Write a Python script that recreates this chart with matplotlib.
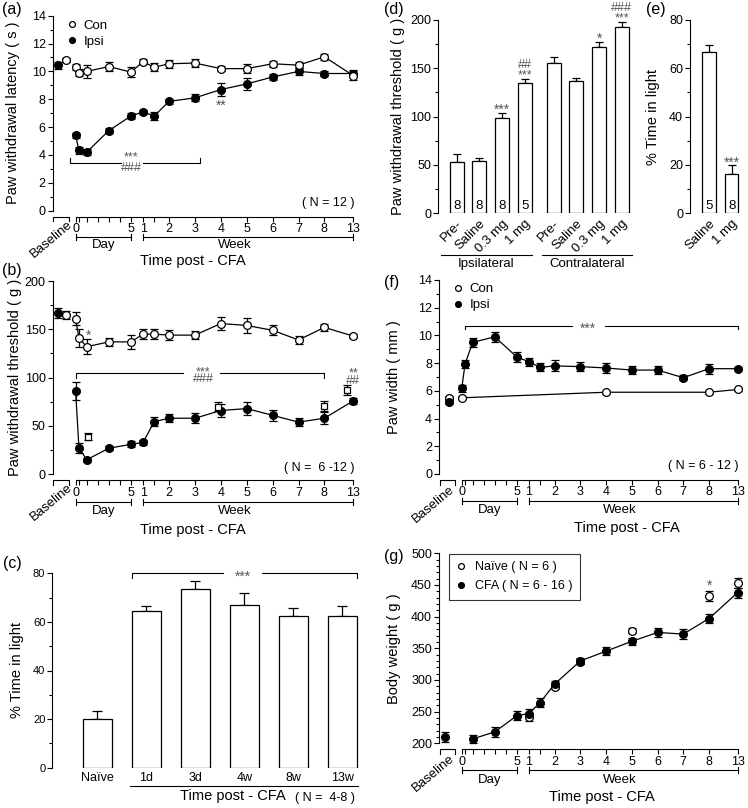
import matplotlib
matplotlib.use('Agg')
import matplotlib.pyplot as plt
import matplotlib.transforms as mtransforms
from matplotlib.lines import Line2D
from matplotlib.ticker import MultipleLocator

plt.rcParams['font.family'] = ['Liberation Sans', 'DejaVu Sans']
plt.rcParams['axes.linewidth'] = 0.8
plt.rcParams['xtick.major.width'] = 0.8
plt.rcParams['ytick.major.width'] = 0.8
plt.rcParams['ytick.minor.width'] = 0.8
plt.rcParams['ytick.major.size'] = 3.5
plt.rcParams['ytick.minor.size'] = 2.0

# ---------------- data ----------------
# time points in days ('B' = baseline)
times_full = ['B', 0, 0.3, 1, 3, 5, 7, 10, 14, 21, 28, 35, 42, 49, 56, 91]

a_ipsi = [10.45, 5.4, 4.35, 4.2, 5.75, 6.8, 7.1, 6.8, 7.85, 8.1, 8.7, 9.1, 9.6, 10.0, 9.85, 9.85]
a_ipsi_err = [0.25, 0.2, 0.25, 0.2, 0.2, 0.2, 0.15, 0.3, 0.2, 0.25, 0.5, 0.4, 0.25, 0.25, 0.2, 0.25]
a_con = [10.8, 10.3, 9.9, 10.0, 10.35, 9.95, 10.7, 10.3, 10.55, 10.6, 10.2, 10.2, 10.55, 10.45, 11.05, 9.7]
a_con_err = [0.15, 0.2, 0.25, 0.45, 0.3, 0.35, 0.2, 0.3, 0.3, 0.3, 0.2, 0.3, 0.2, 0.2, 0.2, 0.3]

b_ipsi = [167, 86, 27.5, 15, 27, 31, 33, 54.5, 58, 58, 66, 68, 61, 54, 58, 76]
b_ipsi_err = [5, 9.5, 5, 2, 2, 3, 3, 5, 4, 5, 7, 7, 6, 4, 6, 3]
b_con = [165, 161, 141, 132, 137, 137, 145, 145, 144, 144, 156, 154, 149, 139, 152, 143]
b_con_err = [4, 7, 9, 8, 4, 7, 5, 5, 5, 4, 7, 8, 5, 4, 4, 2]
b_sq_times = [1, 28, 56, 91]
b_sq = [39, 70, 71, 87]
b_sq_err = [4, 5, 5, 5]

c_labels = ['Naïve', '1d', '3d', '4w', '8w', '13w']
c_vals = [20.0, 64.6, 73.4, 67.1, 62.5, 62.3]
c_errs = [3.4, 2.0, 3.6, 4.6, 3.2, 4.3]

d_labels = ['Pre-', 'Saline', '0.3 mg', '1 mg', 'Pre-', 'Saline', '0.3 mg', '1 mg']
d_vals = [53, 54, 98.5, 134.5, 155, 137, 172, 193]
d_errs = [8.5, 3, 5, 4.5, 6.5, 3.5, 5, 5]
d_n = ['8', '8', '8', '5', '', '', '', '']
d_sig = ['', '', '***', '##\n***', '', '', '*', '###\n***']

e_labels = ['Saline', '1 mg']
e_vals = [66.6, 16.2]
e_errs = [3.2, 3.7]
e_n = ['5', '8']
e_sig = ['', '***']

f_times_ipsi = times_full
f_ipsi = [5.2, 6.2, 7.95, 9.5, 9.9, 8.45, 8.1, 7.7, 7.8, 7.75, 7.65, 7.5, 7.5, 6.95, 7.6, 7.6]
f_ipsi_err = [0.15, 0.25, 0.3, 0.3, 0.35, 0.35, 0.3, 0.3, 0.4, 0.35, 0.35, 0.3, 0.3, 0.2, 0.35, 0.1]
f_times_con = ['B', 0, 28, 56, 91]
f_con = [5.5, 5.5, 5.9, 5.9, 6.1]
f_con_err = [0.1, 0.1, 0.12, 0.12, 0.12]

g_times_cfa = ['B', 1, 3, 5, 7, 10, 14, 21, 28, 35, 42, 49, 56, 91]
g_cfa = [210.5, 207, 218, 243.5, 247, 264, 293.5, 330, 345.5, 361, 375, 372.5, 397, 438]
g_cfa_err = [8, 6, 8, 7, 7, 7, 5, 5, 6, 6, 7, 8, 7, 8]
g_times_naive = [7, 14, 21, 35, 56, 91]
g_naive = [241, 289.5, 329, 378, 433, 453]
g_naive_err = [5, 4, 4, 4, 8, 8]

GREY = '#555555'
STAR_FS = 10
TICK_FS = 9
W, H = 748, 808
PT = 100 / 72.0  # px per point
fig = plt.figure(figsize=(W / 100, H / 100), dpi=100)


def rect(l, t, r, b):
    return [l / W, 1 - b / H, (r - l) / W, (b - t) / H]


def xpos(t):
    if t <= 5:
        return t
    w = t / 7.0
    if w <= 8:
        return 6.1 + (w - 1) * 2.34
    return 22.48 + (w - 8) * 0.52


def stars(ax, x, y, s, dy_px, fs=STAR_FS):
    # single-line asterisks: visual centre dy_px above (x, y)
    off = (dy_px - 0.23 * fs * PT) / PT
    ax.annotate(s, (x, y), xytext=(0, off), textcoords='offset points', ha='center',
                va='center', fontsize=fs, color=GREY, annotation_clip=False, zorder=4)


def stack(ax, x, y, s, dy_px, ls, fs=9):
    # two-line significance marks, text-box centre dy_px above (x, y)
    ax.annotate(s, (x, y), xytext=(0, dy_px / PT), textcoords='offset points', ha='center',
                va='center', fontsize=fs, color=GREY, linespacing=ls,
                annotation_clip=False, zorder=4)


def draw_series(ax, times, vals, errs, filled, base_x, z=3, ms=5.6, shifts=None, marker='o', line=True):
    xs = [base_x if t == 'B' else xpos(t) for t in times]
    if shifts:
        xs = [x + s for x, s in zip(xs, shifts)]
    ax.errorbar(xs, vals, yerr=errs, fmt='none', ecolor='k', elinewidth=0.9,
                capsize=2.9, capthick=0.9, zorder=z, clip_on=False)
    if line:
        lx = [x for x, t in zip(xs, times) if t != 'B']
        ly = [v for v, t in zip(vals, times) if t != 'B']
        ax.plot(lx, ly, '-', color='k', lw=0.9, zorder=z)
    ax.plot(xs, vals, marker, ls='none', ms=ms, mfc='k' if filled else 'w', mec='k',
            mew=0.9, zorder=z + 0.5, clip_on=False)
    return xs


XL = (-2.07, 25.35)
tick_t = [0, 0.3, 1, 2, 3, 4, 5, 7, 10, 14, 21, 28, 35, 42, 49, 56, 91]
tick_lab = {0: '0', 5: '5', 7: '1', 14: '2', 21: '3', 28: '4', 35: '5', 42: '6',
            49: '7', 56: '8', 91: '13'}


def px_trans(ax):
    y0 = ax.get_position().y0 * H
    tr = mtransforms.blended_transform_factory(ax.transData, mtransforms.IdentityTransform())
    return y0, tr


def time_axis(ax, dy_day, dy_daytxt, dy_title, x_title, base_anchor=-0.75, base_dy=7.5):
    ax.set_xlim(*XL)
    for s in ['top', 'right']:
        ax.spines[s].set_visible(False)
    ax.spines['bottom'].set_position(('outward', 4.3))
    ax.spines['bottom'].set_bounds(xpos(0), xpos(91))
    ax.set_xticks([xpos(t) for t in tick_t])
    ax.set_xticklabels([tick_lab.get(t, '') for t in tick_t])
    ax.tick_params(axis='x', length=3.3, width=0.8, pad=1.2, labelsize=TICK_FS)
    ax.tick_params(axis='y', labelsize=TICK_FS, pad=1.5)
    y0, tr = px_trans(ax)

    def seg(xs, dys):
        ax.plot(xs, [y0 - d for d in dys], color='k', lw=0.8, transform=tr, clip_on=False)
    bx0, bx1 = XL[0] + 0.05, -0.6
    seg([bx0, bx0, bx1, bx1], [10.5, 6, 6, 10.5])
    ax.text(base_anchor, y0 - base_dy, 'Baseline', transform=tr, rotation=40, ha='right',
            va='top', rotation_mode='anchor', fontsize=9.5)
    for a, b in [(xpos(0), xpos(5)), (xpos(7), xpos(91))]:
        seg([a, b], [dy_day, dy_day])
        seg([a, a], [dy_day - 3, dy_day + 3])
        seg([b, b], [dy_day - 3, dy_day + 3])
    ax.text((xpos(0) + xpos(5)) / 2, y0 - dy_daytxt, 'Day', transform=tr, ha='center',
            va='center', fontsize=9.5)
    ax.text(14.35, y0 - dy_daytxt, 'Week', transform=tr, ha='center', va='center', fontsize=9.5)
    ax.text(x_title, y0 - dy_title, 'Time post - CFA', transform=tr, ha='center',
            va='center', fontsize=10.5)


def ylab(ax, text, px_right, l, w):
    ax.set_ylabel(text, fontsize=10.5)
    ax.yaxis.set_label_coords((px_right - l) / w, 0.5)


def bracket(ax, x0, x1, y, tick, gap=None):
    if gap:
        ax.plot([x0, x0, gap[0]], [y + tick, y, y], color='k', lw=0.8, clip_on=False, zorder=1)
        ax.plot([gap[1], x1, x1], [y, y, y + tick], color='k', lw=0.8, clip_on=False, zorder=1)
    else:
        ax.plot([x0, x0, x1, x1], [y + tick, y, y, y + tick], color='k', lw=0.8, clip_on=False, zorder=1)


def panel_letter(x, y, s):
    fig.text(x / W, 1 - y / H, s, fontsize=11.5, ha='left', va='top')


h_con = Line2D([], [], marker='o', ls='none', mfc='w', mec='k', mew=0.9, ms=4.2)
h_ipsi = Line2D([], [], marker='o', ls='none', mfc='k', mec='k', mew=0.9, ms=4.2)

# ---------------- (a) ----------------
la, wa = 52.7, 303.5
axa = fig.add_axes(rect(la, 15.7, la + wa, 210.7))
axa.set_ylim(0, 14)
axa.yaxis.set_major_locator(MultipleLocator(2))
axa.yaxis.set_minor_locator(MultipleLocator(1))
xa = draw_series(axa, times_full, a_ipsi, a_ipsi_err, True, -1.57)
draw_series(axa, times_full, a_con, a_con_err, False, -0.9)
time_axis(axa, 26, 34.5, 50.5, 10.6)
ylab(axa, 'Paw withdrawal latency ( s )', 20, la, wa)
bracket(axa, xpos(0) - 0.5, xpos(21) + 0.45, 3.45, 0.3, gap=(4.07, 6.1))
stack(axa, 5.05, 3.45, '***\n###', -0.3, 0.84)
i4 = times_full.index(28)
stars(axa, xa[i4], a_ipsi[i4] - a_ipsi_err[i4], '**', -6)
axa.text(25.2, 0.57, '( N = 12 )', ha='right', va='center', fontsize=9)
axa.legend([h_con, h_ipsi], ['Con', 'Ipsi'], loc='upper left', bbox_to_anchor=(0.045, 0.98),
           frameon=False, fontsize=9.5, handlelength=0.8, handletextpad=0.5,
           labelspacing=0.3, borderpad=0, borderaxespad=0)

# ---------------- (b) ----------------
axb = fig.add_axes(rect(la, 281, la + wa, 474.3))
axb.set_ylim(0, 200)
axb.yaxis.set_major_locator(MultipleLocator(50))
axb.yaxis.set_minor_locator(MultipleLocator(25))
draw_series(axb, times_full, b_ipsi, b_ipsi_err, True, -1.57)
xb = draw_series(axb, times_full, b_con, b_con_err, False, -0.9)
xsq = draw_series(axb, b_sq_times, b_sq, b_sq_err, False, 0, marker='s', ms=5.0, line=False,
                  shifts=[0.1, -0.3, 0.0, -0.6])
time_axis(axb, 27.4, 36.7, 55.5, 10.6)
ylab(axb, 'Paw withdrawal threshold ( g )', 22, la, wa)
bracket(axb, xpos(0), xpos(56), 105, -5.5, gap=(9.72, 13.04))
stack(axb, 11.55, 105, '***\n###', -2.9, 0.45)
i1 = times_full.index(1)
stars(axb, xb[i1] + 0.15, b_con[i1] + b_con_err[i1], '*', 6)
stack(axb, xsq[-1] + 0.6, b_sq[-1] + b_sq_err[-1], '**\n##', 8.1, 0.52)
axb.text(25.2, 7, '( N =  6 -12 )', ha='right', va='center', fontsize=9)

# ---------------- (c) ----------------
lc, wc = 52.3, 314.6
axc = fig.add_axes(rect(lc, 573.3, lc + wc, 767.7))
xc = list(range(len(c_labels)))
axc.bar(xc, c_vals, width=0.6, color='w', edgecolor='k', lw=0.9, zorder=2)
axc.errorbar(xc, c_vals, yerr=[[0] * len(c_vals), c_errs], fmt='none', ecolor='k',
             elinewidth=0.9, capsize=3.6, capthick=0.9, zorder=1)
axc.set_ylim(0, 80)
axc.set_xlim(-0.92, 5.5)
for s in ['top', 'right', 'bottom']:
    axc.spines[s].set_visible(False)
axc.yaxis.set_major_locator(MultipleLocator(20))
axc.yaxis.set_minor_locator(MultipleLocator(10))
axc.set_xticks(xc)
axc.set_xticklabels(c_labels, fontsize=9)
axc.tick_params(axis='x', length=0, pad=3)
axc.tick_params(axis='y', labelsize=8, pad=1.5)
ylab(axc, '% Time in light', 24, lc, wc)
bracket(axc, 0.7, 5.3, 80, -2, gap=(2.57, 3.35))
stars(axc, 2.96, 80, '***', 0)
y0c, trc = px_trans(axc)
axc.plot([0.67, 5.32], [y0c - 18.5, y0c - 18.5], color='k', lw=0.8, transform=trc, clip_on=False)
axc.text(2.77, y0c - 28.5, 'Time post - CFA', transform=trc, ha='center', va='center', fontsize=10.5)
axc.text(4.65, y0c - 30.5, '( N =  4-8 )', transform=trc, ha='center', va='center', fontsize=9)

# ---------------- (d) ----------------
ld, wd = 438.3, 193.2
axd = fig.add_axes(rect(ld, 20, ld + wd, 213.3))
xd = [i + (0.27 if i >= 4 else 0) for i in range(len(d_vals))]
axd.bar(xd, d_vals, width=0.62, color='w', edgecolor='k', lw=0.9, zorder=2)
axd.errorbar(xd, d_vals, yerr=[[0] * len(d_vals), d_errs], fmt='none', ecolor='k',
             elinewidth=0.9, capsize=3.0, capthick=0.9, zorder=1)
axd.set_ylim(0, 200)
axd.set_xlim(-0.81, 7.7)
for s in ['top', 'right', 'bottom']:
    axd.spines[s].set_visible(False)
axd.yaxis.set_major_locator(MultipleLocator(50))
axd.yaxis.set_minor_locator(MultipleLocator(25))
axd.set_xticks(xd)
axd.set_xticklabels(d_labels, fontsize=9.5, rotation=45, ha='right', rotation_mode='anchor')
axd.tick_params(axis='x', length=0, pad=3)
axd.tick_params(axis='y', labelsize=TICK_FS, pad=1.5)
ylab(axd, 'Paw withdrawal threshold ( g )', 405, ld, wd)
for x, n in zip(xd, d_n):
    axd.text(x, 1.5, n, ha='center', va='bottom', fontsize=9.5, zorder=3)
for x, v, e, s in zip(xd, d_vals, d_errs, d_sig):
    if '\n' in s:
        stack(axd, x, v + e, s, 8.5, 0.82)
    elif s:
        stars(axd, x, v + e, s, 6.3)
y0d, trd = px_trans(axd)
for a, b, lab in [(-0.7, 3.3, 'Ipsilateral'), (3.74, 7.73, 'Contralateral')]:
    axd.plot([a, b], [y0d - 41.7, y0d - 41.7], color='k', lw=0.8, transform=trd, clip_on=False)
    axd.text((a + b) / 2, y0d - 50.5, lab, transform=trd, ha='center', va='center', fontsize=9.5)

# ---------------- (e) ----------------
le, we = 690, 53
axe = fig.add_axes(rect(le, 20, le + we, 213.3))
xe = list(range(len(e_vals)))
axe.bar(xe, e_vals, width=0.6, color='w', edgecolor='k', lw=0.9, zorder=2)
axe.errorbar(xe, e_vals, yerr=[[0] * len(e_vals), e_errs], fmt='none', ecolor='k',
             elinewidth=0.9, capsize=3.0, capthick=0.9, zorder=1)
axe.set_ylim(0, 80)
axe.set_xlim(-0.84, 1.5)
for s in ['top', 'right', 'bottom']:
    axe.spines[s].set_visible(False)
axe.yaxis.set_major_locator(MultipleLocator(20))
axe.yaxis.set_minor_locator(MultipleLocator(10))
axe.set_xticks(xe)
axe.set_xticklabels(e_labels, fontsize=9.5, rotation=45, ha='right', rotation_mode='anchor')
axe.tick_params(axis='x', length=0, pad=3)
axe.tick_params(axis='y', labelsize=TICK_FS, pad=1.5)
ylab(axe, '% Time in light', 660, le, we)
for x, n in zip(xe, e_n):
    axe.text(x, 0.6, n, ha='center', va='bottom', fontsize=9.5, zorder=3)
for x, v, e, s in zip(xe, e_vals, e_errs, e_sig):
    if s:
        stars(axe, x, v + e, s, 6)

# ---------------- (f) ----------------
lf, wf = 439, 301.6
axf = fig.add_axes(rect(lf, 280, lf + wf, 474))
axf.set_ylim(0, 14)
axf.yaxis.set_major_locator(MultipleLocator(2))
axf.yaxis.set_minor_locator(MultipleLocator(1))
draw_series(axf, f_times_con, f_con, f_con_err, False, -1.15)
draw_series(axf, f_times_ipsi, f_ipsi, f_ipsi_err, True, -1.15)
time_axis(axf, 26.7, 36, 54, 15.0, base_anchor=-1.2, base_dy=9)
ylab(axf, 'Paw width ( mm )', 401, lf, wf)
bracket(axf, 0.3, xpos(91), 10.7, -0.25, gap=(10.0, 13.0))
stars(axf, 11.5, 10.7, '***', 0)
axf.text(25.2, 0.58, '( N = 6 - 12 )', ha='right', va='center', fontsize=9)
axf.legend([h_con, h_ipsi], ['Con', 'Ipsi'], loc='upper left', bbox_to_anchor=(0.045, 0.985),
           frameon=False, fontsize=9.5, handlelength=0.8, handletextpad=0.5,
           labelspacing=0.3, borderpad=0, borderaxespad=0)

# ---------------- (g) ----------------
axg = fig.add_axes(rect(lf, 553.3, lf + wf, 743.3))
axg.set_ylim(200, 500)
axg.yaxis.set_major_locator(MultipleLocator(50))
axg.yaxis.set_minor_locator(MultipleLocator(10))
xg = draw_series(axg, g_times_naive, g_naive, g_naive_err, False, 0, line=False)
draw_series(axg, g_times_cfa, g_cfa, g_cfa_err, True, -1.55)
time_axis(axg, 26.7, 36.7, 53.4, 12.7, base_anchor=-1.2, base_dy=9)
ylab(axg, 'Body weight ( g )', 401, lf, wf)
i8 = g_times_naive.index(56)
stars(axg, xg[i8], g_naive[i8] + g_naive_err[i8], '*', 8)
lg = axg.legend([h_con, h_ipsi], ['Naïve ( N = 6 )', 'CFA ( N = 6 - 16 )'], loc='upper left',
                bbox_to_anchor=(0.033, 0.997), frameon=True, fancybox=False, edgecolor='k',
                fontsize=9, handlelength=0.8, handletextpad=0.7, labelspacing=0.55,
                borderpad=0.6, borderaxespad=0)
lg.get_frame().set_linewidth(0.8)

# panel letters
panel_letter(2, 2, '(a)')
panel_letter(2, 263, '(b)')
panel_letter(3, 556, '(c)')
panel_letter(384, 2, '(d)')
panel_letter(646, 2, '(e)')
panel_letter(384, 275, '(f)')
panel_letter(384, 549, '(g)')

fig.savefig('out.png', dpi=100)
